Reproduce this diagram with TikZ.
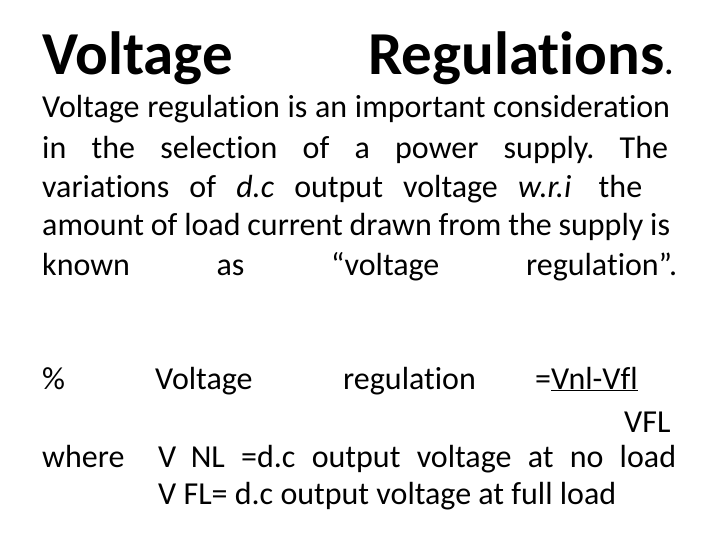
\documentclass[tikz,border=0pt]{standalone}
\usepackage{fontspec}
\setmainfont[Ligatures={TeX,CommonOff}]{Carlito}
\tikzset{
  body/.style={anchor=base west,inner sep=0pt,font=\fontsize{32}{38}\selectfont},
  title/.style={anchor=base west,inner sep=0pt,font=\fontsize{61}{70}\selectfont\bfseries}
}
\newcommand{\jline}[2]{\hbox to #1pt{#2}}
\begin{document}
\begin{tikzpicture}[x=1pt,y=-1pt]
  \useasboundingbox (0,0) rectangle (720,540);
  \node[title] (t1) at (42,75) {Voltage};
  \node[title] (t2) at (368,75) {Regulations\fontsize{32}{38}\selectfont.};
  \node[body] (l1) at (42,118) {\jline{628}{Voltage\hfill regulation\hfill is\hfill an\hfill important\hfill consideration}};
  \node[body] (l2) at (42,159) {\jline{626}{in\hfill the\hfill selection\hfill of\hfill a\hfill power\hfill supply.\hfill The}};
  \node[body] (l3) at (42,197) {\jline{600}{variations\hfill of\hfill \textit{d.c}\hfill output\hfill voltage\hfill \textit{w.r.i}\hfill\ the}};
  \node[body] (l4) at (42,236) {\jline{628}{amount\hfill of\hfill load\hfill current\hfill drawn\hfill from\hfill the\hfill supply\hfill is}};
  \node[body] (l5) at (42,275) {\jline{635}{known\hfill as\hfill ``voltage\hfill regulation''.}};
  \node[body] (pc) at (42,389) {\%};
  \node[body] (vr1) at (155,389) {Voltage};
  \node[body] (vr2) at (343,389) {regulation};
  \node[body] (eq) at (535,389) {=\underline{Vnl-Vfl}};
  \node[body] (den) at (624,432) {VFL};
  \node[body] (wh) at (42,467) {where};
  \node[body] (d1) at (158,467) {\jline{518}{V\ \ NL\hfill =d.c\hfill output\hfill voltage\hfill at\hfill no\hfill load}};
  \node[body] (d2) at (158,504) {V FL= d.c output voltage at full load};
\end{tikzpicture}
\end{document}
